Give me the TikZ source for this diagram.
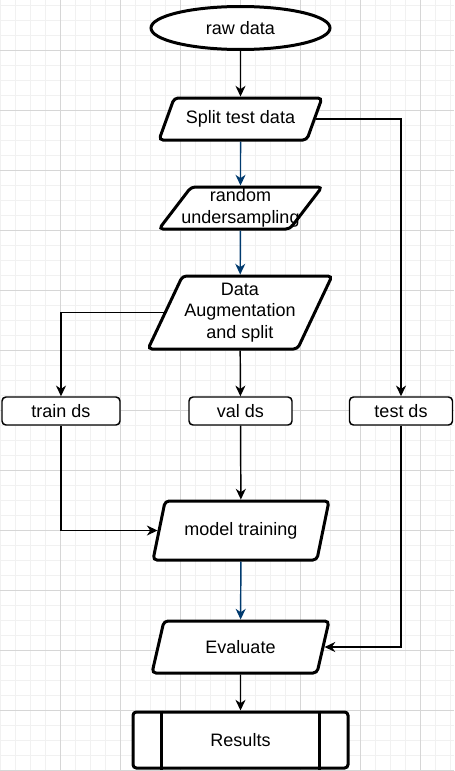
\documentclass[tikz,border=0pt]{standalone}
\usepackage{fontspec}
\setmainfont{Liberation Sans}
\usetikzlibrary{shapes.geometric,arrows.meta}

\definecolor{gridminor}{RGB}{241,241,241}
\definecolor{gridmajor}{RGB}{214,214,214}
\definecolor{flowblue}{RGB}{0,58,110}

\tikzset{
    txt/.style={font=\fontsize{13.5}{16.3}\selectfont, align=center},
    start/.style={txt, ellipse, draw, line width=2.25pt, fill=white, inner sep=0pt,
        minimum width=134.25pt, minimum height=32.25pt},
    io/.style={txt, trapezium, trapezium left angle=#1, trapezium right angle=180-#1,
        trapezium stretches body, draw, line width=2.25pt, fill=white,
        rounded corners=3pt, inner ysep=1pt, inner xsep=-8pt},
    ds/.style={txt, rectangle, draw, line width=1.1pt, fill=white, rounded corners=3pt,
        minimum width=77.25pt, minimum height=21pt, inner sep=0pt},
    proc/.style={txt, rectangle, draw, line width=2.25pt, fill=white, rounded corners=2.5pt,
        minimum width=161.25pt, minimum height=42pt},
    link/.style={line width=1.1pt, -{Stealth[length=8pt, width=7.5pt, inset=2.5pt]}},
    bluelink/.style={link, draw=flowblue}
}

\begin{document}
\begin{tikzpicture}[x=0.75pt, y=-0.75pt]
    \useasboundingbox (0,0) rectangle (454,771);

    % Background grid
    \foreach \x in {0,15,...,450} \draw[gridminor, line width=0.75pt] (\x,0) -- (\x,771);
    \foreach \y in {5,20,...,770} \draw[gridminor, line width=0.75pt] (0,\y) -- (454,\y);
    \foreach \x in {60,120,...,420} \draw[gridmajor, line width=0.75pt] (\x,0) -- (\x,771);
    \foreach \y in {50,110,...,770} \draw[gridmajor, line width=0.75pt] (0,\y) -- (454,\y);

    % Steps
    \node[start] (raw) at (240.5,28) {raw data};
    \node[io=52, minimum width=122.25pt, minimum height=31.5pt] (split) at (240.5,119) {Split test data};
    \node[io=52, minimum width=122.25pt, minimum height=31.5pt] (under) at (240.5,208) {random\\undersampling};
    \node[io=61, minimum width=138pt, minimum height=54.75pt] (aug) at (240,312.5) {Data\\Augmentation\\and split};

    \node[ds, minimum width=88.5pt] (train) at (61,411) {train ds};
    \node[ds] (val) at (240.5,411) {val ds};
    \node[ds] (test) at (401,411) {test ds};

    \node[io=58, minimum width=132pt, minimum height=44.25pt] (model) at (241,530.5) {model training};
    \node[io=53, minimum width=132.75pt, minimum height=39pt] (eval) at (240.5,647) {Evaluate};

    \node[proc] (res) at (240.5,740) {Results};
    \draw[line width=2.25pt] ([xshift=22.5pt]res.north west) -- ([xshift=22.5pt]res.south west);
    \draw[line width=2.25pt] ([xshift=-22.5pt]res.north east) -- ([xshift=-22.5pt]res.south east);

    % Arrows
    \draw[link] (raw) -- (split);
    \draw[bluelink] (split) -- (under);
    \draw[bluelink] (under) -- (aug);
    \draw[link] (aug.west) -| (train.north);
    \draw[link] (aug) -- (val);
    \draw[link] (split.east) -| (test.north);
    \draw[link] (val) -- (model);
    \draw[link] (train.south) |- (model.west);
    \draw[bluelink] (model) -- (eval);
    \draw[link] (test.south) |- (eval.east);
    \draw[link] (eval) -- (res);
\end{tikzpicture}
\end{document}
